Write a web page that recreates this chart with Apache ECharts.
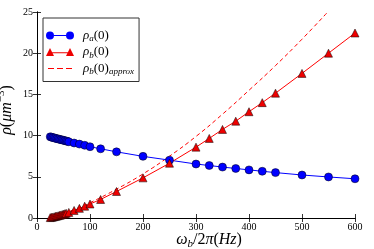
<!DOCTYPE html>
<html><head><meta charset="utf-8">
<script src="https://cdn.jsdelivr.net/npm/echarts@6/dist/echarts.min.js"></script>
<style>html,body{margin:0;padding:0;background:#fff}#c{width:374px;height:249px}</style>
</head><body><div id="c"></div>
<script>
// ---- data ----
const xA = [25,27.5,30,32.5,35,37.5,40,42.5,45,47.5,50,52.5,55,57.5,60,70,80,90,100,120,150,200,250,300,325,350,375,400,425,450,500,550,600];
const rhoA = [9.85,9.81,9.76,9.72,9.67,9.63,9.59,9.55,9.51,9.47,9.43,9.39,9.34,9.3,9.25,9.1,8.97,8.82,8.65,8.4,8.03,7.48,7.02,6.55,6.37,6.18,6.01,5.84,5.67,5.51,5.22,4.98,4.76];
const xB = [25,27.5,30,32.5,35,37.5,40,42.5,45,47.5,50,52.5,55,60,70,80,90,100,120,150,200,250,300,325,350,375,400,425,450,500,550,600];
const rhoB = [0.05,0.08,0.12,0.16,0.2,0.24,0.28,0.32,0.37,0.42,0.47,0.52,0.57,0.68,0.92,1.17,1.43,1.7,2.25,3.22,4.87,6.65,8.6,9.66,10.75,11.75,12.9,14.0,15.15,17.55,20.0,22.45];
const xApprox = [25,50,75,100,150,200,250,300,350,400,450,500,550];
const rhoApprox = [0.2,0.6,1.15,1.85,3.5,5.35,7.5,9.9,12.6,15.5,18.5,21.7,25.1];
const xTicks = [0,100,200,300,400,500,600];
const yTicks = [0,5,10,15,20,25];
const names = ['ρa(0)','ρb(0)','ρb(0)approx'];
const legendRich = {
  'ρa(0)': '{it|ρ}{sub|a}{n|(0)}',
  'ρb(0)': '{it|ρ}{sub|b}{n|(0)}',
  'ρb(0)approx': '{it|ρ}{sub|b}{n|(0)}{sub|approx}'
};

// legend glyphs (matplotlib style: marker at both ends of a line segment), in a 28x8 box
const box = 'M0,0 L0.01,0 L0.01,0.01 Z M27.99,7.99 L28,7.99 L28,8 Z ';
const iconCircle = 'path://' + box +
  'M0,4 A4,4 0 1,1 8,4 A4,4 0 1,1 0,4 Z M20,4 A4,4 0 1,1 28,4 A4,4 0 1,1 20,4 Z M8,3.5 L20,3.5 L20,4.5 L8,4.5 Z';
const iconTri = 'path://' + box +
  'M0,8 L4,0 L8,8 Z M20,8 L24,0 L28,8 Z M6,4.2 L22,4.2 L22,5.2 L6,5.2 Z';
const iconDash = 'path://' + box +
  'M2,3.5 L8,3.5 L8,4.5 L2,4.5 Z M11,3.5 L17,3.5 L17,4.5 L11,4.5 Z M20,3.5 L26,3.5 L26,4.5 L20,4.5 Z';

const serif = 'Liberation Serif';
const zip = (xs, ys) => xs.map((x, i) => [x, ys[i]]);
const chart = echarts.init(document.getElementById('c'), null, {renderer: 'canvas'});
const axisCommon = {
  axisLine: {show: true, lineStyle: {color: '#000', width: 1}},
  axisTick: {show: true, inside: true, length: 4, lineStyle: {color: '#000', width: 0.8}},
  splitLine: {show: false},
  nameMoveOverlap: false
};
chart.setOption({
  animation: false,
  grid: {left: 37, right: 19, top: 12, bottom: 31, containLabel: false, outerBoundsMode: 'none'},
  xAxis: [
    Object.assign({type: 'value', min: xTicks[0], max: xTicks[xTicks.length-1], interval: 100, position: 'bottom',
      axisLabel: {color: '#000', fontFamily: serif, fontSize: 10, margin: 4},
      name: '{it|ω}{sub|b}{n|/2}{it|π}{n|(}{it|Hz}{n|)}', nameLocation: 'middle', nameGap: 12,
      nameTextStyle: {color: '#000', fontFamily: serif, fontSize: 16, padding: [0, 0, 0, 26],
        rich: {it: {fontFamily: serif, fontStyle: 'italic', fontSize: 16, color: '#000'},
               n: {fontFamily: serif, fontSize: 16, color: '#000'},
               sub: {fontFamily: serif, fontStyle: 'italic', fontSize: 11, color: '#000', verticalAlign: 'bottom', lineHeight: 20}}}
    }, axisCommon),
    Object.assign({type: 'value', min: 0, max: 600, interval: 100, position: 'top', axisLabel: {show: false}}, axisCommon)
  ],
  yAxis: [
    Object.assign({type: 'value', min: yTicks[0], max: yTicks[yTicks.length-1], interval: 5, position: 'left',
      axisLabel: {color: '#000', fontFamily: serif, fontSize: 10, margin: 4},
      name: '{it|ρ}{n|(}{it|μm}{sup|−3}{n|)}', nameLocation: 'middle', nameGap: 19,
      nameTextStyle: {color: '#000', fontFamily: serif, fontSize: 16, padding: [0, 0, 0, 10],
        rich: {it: {fontFamily: serif, fontStyle: 'italic', fontSize: 16, color: '#000'},
               n: {fontFamily: serif, fontSize: 16, color: '#000'},
               sup: {fontFamily: serif, fontSize: 11, color: '#000', verticalAlign: 'top', lineHeight: 22}}}
    }, axisCommon),
    Object.assign({type: 'value', min: 0, max: 25, interval: 5, position: 'right', axisLabel: {show: false}}, axisCommon)
  ],
  legend: {
    orient: 'vertical', left: 43, top: 18,
    data: [{name: names[0], icon: iconCircle}, {name: names[1], icon: iconTri}, {name: names[2], icon: iconDash}],
    borderColor: '#333', borderWidth: 1, borderRadius: 0, padding: [11, 5, 5, 3],
    itemGap: 2, itemWidth: 28, itemHeight: 8, symbolKeepAspect: true,
    itemStyle: {borderWidth: 0},
    formatter: n => legendRich[n],
    textStyle: {color: '#000', fontFamily: serif, fontSize: 13, padding: [0, 0, 0, 4],
      rich: {it: {fontFamily: serif, fontStyle: 'italic', fontSize: 13, color: '#000', lineHeight: 16},
             n: {fontFamily: serif, fontSize: 13, color: '#000', lineHeight: 16},
             sub: {fontFamily: serif, fontStyle: 'italic', fontSize: 9, color: '#000', verticalAlign: 'bottom', lineHeight: 16}}}
  },
  series: [
    {name: names[0], type: 'line', data: zip(xA, rhoA), symbol: 'circle', symbolSize: 8,
     itemStyle: {color: '#0000ff', borderColor: '#000', borderWidth: 0.5},
     lineStyle: {color: '#0000ff', width: 1}, z: 3},
    {name: names[1], type: 'line', data: zip(xB, rhoB), symbol: 'triangle', symbolSize: 8,
     itemStyle: {color: '#ee0000', borderColor: '#000', borderWidth: 0.5},
     lineStyle: {color: '#ff0000', width: 1}, z: 3},
    {name: names[2], type: 'line', data: zip(xApprox, rhoApprox), symbol: 'none', smooth: true,
     itemStyle: {color: '#ff0000'},
     lineStyle: {color: '#ff0000', width: 1, type: [4, 3]}, z: 2, clip: true}
  ]
});
</script></body></html>
